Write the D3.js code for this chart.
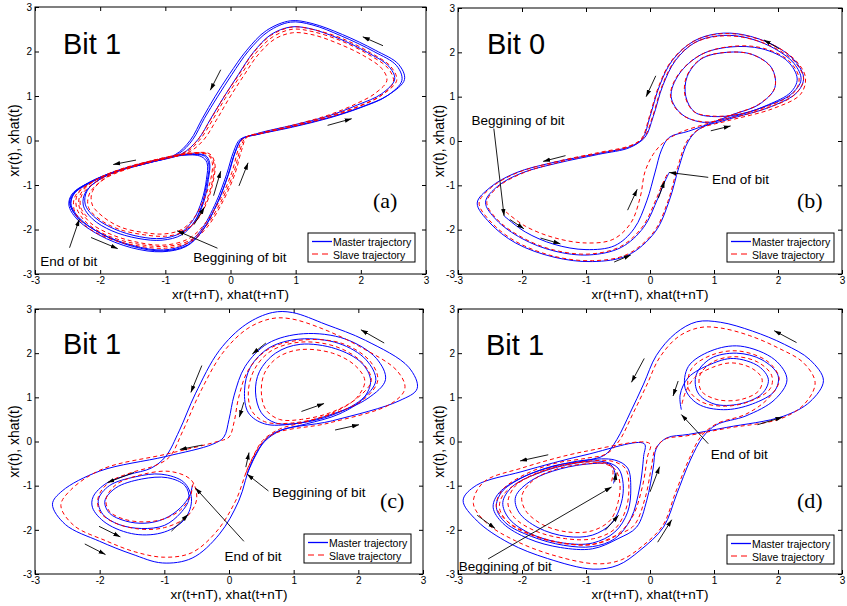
<!DOCTYPE html>
<html><head><meta charset="utf-8">
<script src="https://cdn.jsdelivr.net/npm/d3@7"></script>
<style>body{margin:0;background:#fff}</style>
</head><body>
<svg id="c" width="847" height="606"></svg>
<script>
const tickValues = [-3,-2,-1,0,1,2,3];
const tickLabels = ["-3","-2","-1","0","1","2","3"];
const xLabel = "xr(t+nT), xhat(t+nT)";
const yLabel = "xr(t), xhat(t)";
const legendLabels = ["Master trajectory","Slave trajectory"];
const bitLabels = ["Bit 1","Bit 0","Bit 1","Bit 1"];
const panelTags = ["(a)","(b)","(c)","(d)"];

const masterA = [
[-0.82,-2.12],[-0.6,-1.92],[-0.45,-1.5],[-0.37,-1.0],[-0.33,-0.55],[-0.4,-0.35],[-0.65,-0.32],[-1.05,-0.42],[-1.55,-0.6],[-1.98,-0.85],[-2.22,-1.15],[-2.26,-1.45],[-2.12,-1.76],[-1.82,-2.03],[-1.42,-2.2],[-1.05,-2.24],[-0.75,-2.12],[-0.55,-1.82],[-0.41,-1.38],[-0.34,-0.88],[-0.32,-0.5],[-0.38,-0.34],[-0.62,-0.3],[-1.02,-0.4],[-1.52,-0.58],[-1.96,-0.83],[-2.2,-1.13],[-2.23,-1.43],[-2.08,-1.73],[-1.78,-1.99],[-1.4,-2.16],[-1.05,-2.2],[-0.77,-2.08],[-0.57,-1.78],[-0.44,-1.35],[-0.37,-0.88],[-0.36,-0.5],[-0.45,-0.36],[-0.75,-0.33],
[-1.2,-0.47],[-1.7,-0.66],[-2.1,-0.9],[-2.38,-1.15],[-2.47,-1.38],[-2.35,-1.72],[-2.0,-2.08],[-1.5,-2.36],[-1.03,-2.46],[-0.68,-2.33],[-0.46,-2.03],[-0.22,-1.38],[-0.06,-0.76],[0.05,-0.24],[0.15,0.03],
[0.4,0.13],[0.95,0.3],[1.5,0.5],[2.0,0.74],[2.4,1.0],[2.63,1.35],[2.55,1.68],[2.2,2.0],[1.7,2.35],[1.25,2.6],[0.92,2.66],[0.58,2.45],[0.28,2.02],[0.02,1.48],[-0.2,0.98],[-0.4,0.5],[-0.58,0.02],[-0.8,-0.3],
[-1.25,-0.5],[-1.75,-0.69],[-2.15,-0.93],[-2.4,-1.18],[-2.45,-1.42],[-2.32,-1.74],[-1.98,-2.1],[-1.5,-2.38],[-1.03,-2.48],[-0.66,-2.35],[-0.43,-2.02],[-0.19,-1.37],[-0.03,-0.76],[0.08,-0.24],[0.18,0.04],
[0.42,0.14],[0.97,0.32],[1.52,0.52],[2.02,0.76],[2.42,1.02],[2.67,1.37],[2.58,1.71],[2.22,2.03],[1.72,2.38],[1.25,2.63],[0.92,2.69],[0.55,2.47],[0.25,2.03],[-0.02,1.48],[-0.24,0.98],[-0.43,0.5],[-0.62,0.0],[-0.85,-0.32],
[-1.28,-0.51],[-1.78,-0.7],[-2.18,-0.95],[-2.43,-1.2],[-2.48,-1.45],[-2.36,-1.76],[-2.02,-2.12],[-1.52,-2.41],[-1.05,-2.5],[-0.68,-2.38],[-0.44,-2.05],[-0.2,-1.4],[-0.04,-0.78],[0.07,-0.26],[0.17,0.02],
[0.42,0.16],[0.97,0.35],[1.5,0.55],[1.95,0.8],[2.32,1.05],[2.52,1.38],[2.42,1.68],[2.1,1.98],[1.65,2.3],[1.2,2.52],[0.92,2.55],[0.62,2.38],[0.35,1.98],[0.12,1.48],[-0.1,0.98],[-0.3,0.5],[-0.5,0.02],[-0.75,-0.3],
[-1.25,-0.5],[-1.75,-0.7],[-2.15,-0.95],[-2.4,-1.2],[-2.45,-1.48],[-2.33,-1.77]];

const slaveA = [
[-0.78,-2.05],[-0.55,-1.85],[-0.38,-1.45],[-0.27,-0.95],[-0.24,-0.52],[-0.32,-0.3],[-0.6,-0.28],[-1.0,-0.38],[-1.5,-0.58],[-1.9,-0.82],[-2.12,-1.15],[-2.12,-1.45],[-1.95,-1.72],[-1.68,-1.95],[-1.32,-2.07],[-1.02,-2.1],[-0.75,-2.0],[-0.55,-1.72],[-0.4,-1.3],[-0.3,-0.85],[-0.28,-0.5],[-0.35,-0.32],[-0.62,-0.3],[-1.02,-0.41],[-1.52,-0.61],[-1.93,-0.86],[-2.16,-1.18],[-2.18,-1.5],[-2.0,-1.78],[-1.7,-2.0],[-1.32,-2.12],[-1.0,-2.15],[-0.72,-2.05],[-0.5,-1.75],[-0.36,-1.32],[-0.27,-0.85],[-0.26,-0.48],[-0.35,-0.3],[-0.7,-0.3],
[-1.2,-0.45],[-1.7,-0.65],[-2.08,-0.9],[-2.3,-1.2],[-2.32,-1.5],[-2.15,-1.85],[-1.85,-2.1],[-1.45,-2.28],[-1.02,-2.35],[-0.66,-2.22],[-0.42,-1.92],[-0.15,-1.3],[0.02,-0.72],[0.12,-0.2],[0.2,0.05],
[0.45,0.15],[1.0,0.33],[1.5,0.52],[1.95,0.75],[2.3,1.0],[2.5,1.32],[2.42,1.62],[2.12,1.93],[1.68,2.25],[1.25,2.45],[0.95,2.5],[0.65,2.33],[0.38,1.95],[0.15,1.45],[-0.08,0.95],[-0.28,0.45],[-0.48,0.0],[-0.7,-0.28],
[-1.2,-0.46],[-1.72,-0.67],[-2.12,-0.93],[-2.35,-1.22],[-2.36,-1.52],[-2.2,-1.86],[-1.88,-2.14],[-1.45,-2.32],[-1.0,-2.38],[-0.63,-2.25],[-0.38,-1.93],[-0.12,-1.3],[0.05,-0.72],[0.15,-0.2],[0.23,0.06],
[0.5,0.17],[1.02,0.35],[1.52,0.55],[1.98,0.78],[2.33,1.03],[2.55,1.35],[2.46,1.66],[2.15,1.97],[1.7,2.3],[1.25,2.5],[0.95,2.55],[0.63,2.37],[0.35,1.97],[0.12,1.46],[-0.11,0.96],[-0.31,0.46],[-0.51,0.0],[-0.73,-0.29],
[-1.22,-0.47],[-1.74,-0.68],[-2.14,-0.95],[-2.38,-1.24],[-2.4,-1.55],[-2.24,-1.9],[-1.9,-2.18],[-1.45,-2.36],[-1.0,-2.42],[-0.62,-2.28],[-0.36,-1.95],[-0.1,-1.32],[0.07,-0.74],[0.17,-0.22],[0.25,0.07],
[0.52,0.19],[1.05,0.38],[1.52,0.58],[1.92,0.82],[2.22,1.06],[2.4,1.35],[2.32,1.62],[2.05,1.9],[1.65,2.18],[1.25,2.38],[0.95,2.42],[0.68,2.28],[0.42,1.92],[0.2,1.45],[-0.02,0.95],[-0.22,0.45],[-0.42,0.0],[-0.65,-0.27],
[-1.15,-0.45],[-1.65,-0.66],[-2.05,-0.92],[-2.28,-1.22],[-2.3,-1.5],[-2.2,-1.72]];

const masterB = [
[-2.28,-1.69],[-1.95,-2.05],[-1.5,-2.33],[-1.0,-2.45],[-0.55,-2.36],[-0.25,-1.98],[-0.05,-1.35],[0.08,-0.7],[0.18,-0.2],[0.3,0.08],[0.6,0.22],
[0.95,0.4],[1.3,0.6],[1.7,0.82],[1.95,1.2],[1.9,1.65],[1.6,1.95],[1.2,2.0],[0.8,1.85],[0.58,1.45],[0.56,1.0],[0.7,0.65],[1.0,0.55],[1.45,0.62],[1.85,0.82],[2.2,1.1],[2.3,1.4],[2.15,1.8],[1.75,2.08],[1.25,2.12],[0.8,1.95],[0.45,1.5],[0.33,1.0],[0.5,0.6],[0.85,0.42],[1.3,0.55],[1.8,0.78],[2.2,1.05],[2.36,1.38],[2.25,1.75],[1.9,2.12],[1.45,2.35],[1.05,2.37],[0.7,2.22],[0.4,1.82],[0.2,1.25],[0.05,0.55],[-0.08,0.08],[-0.3,-0.12],
[-0.8,-0.28],[-1.5,-0.48],[-2.1,-0.72],[-2.5,-1.05],[-2.7,-1.4],[-2.5,-1.85],[-2.1,-2.3],[-1.5,-2.62],[-0.9,-2.72],[-0.35,-2.58],[0.08,-2.05],[0.3,-1.35],[0.45,-0.6],[0.6,0.0],[0.78,0.28],
[1.2,0.48],[1.9,0.78],[2.3,1.1],[2.4,1.42],[2.28,1.78],[1.95,2.15],[1.45,2.4],[1.05,2.42],[0.68,2.25],[0.35,1.82],[0.15,1.25],[0.0,0.55],[-0.12,0.05],[-0.32,-0.15],
[-0.8,-0.3],[-1.45,-0.5],[-2.0,-0.72],[-2.38,-1.02],[-2.57,-1.38],[-2.4,-1.78],[-2.0,-2.2],[-1.5,-2.48],[-0.95,-2.57],[-0.45,-2.4],[-0.1,-1.95],[0.12,-1.3],[0.22,-0.95],[0.3,-0.71]];

const slaveB = [
[-2.25,-1.6],[-1.95,-1.92],[-1.5,-2.18],[-1.0,-2.3],[-0.58,-2.22],[-0.3,-1.85],[-0.15,-1.25],[-0.08,-0.7],[0.05,-0.3],[0.2,-0.05],[0.45,0.18],
[0.95,0.42],[1.3,0.6],[1.7,0.83],[1.95,1.2],[1.9,1.64],[1.6,1.95],[1.2,2.0],[0.8,1.86],[0.57,1.45],[0.55,1.0],[0.69,0.66],[1.0,0.56],[1.45,0.62],[1.87,0.8],[2.24,1.08],[2.33,1.4],[2.17,1.81],[1.75,2.1],[1.25,2.13],[0.8,1.95],[0.44,1.5],[0.32,1.0],[0.49,0.6],[0.85,0.43],[1.3,0.53],[1.82,0.74],[2.24,1.02],[2.4,1.38],[2.27,1.77],[1.92,2.12],[1.45,2.34],[1.05,2.36],[0.69,2.21],[0.39,1.82],[0.19,1.25],[0.04,0.55],[-0.09,0.09],[-0.3,-0.1],
[-0.8,-0.26],[-1.45,-0.46],[-2.08,-0.72],[-2.48,-1.05],[-2.67,-1.4],[-2.47,-1.85],[-2.08,-2.28],[-1.5,-2.6],[-0.9,-2.7],[-0.36,-2.56],[0.06,-2.05],[0.28,-1.36],[0.43,-0.6],[0.58,0.0],[0.77,0.27],
[1.2,0.45],[1.92,0.73],[2.35,1.05],[2.43,1.42],[2.3,1.78],[1.96,2.14],[1.45,2.39],[1.05,2.41],[0.67,2.24],[0.34,1.82],[0.14,1.25],[-0.01,0.55],[-0.13,0.06],[-0.33,-0.13],
[-0.8,-0.28],[-1.43,-0.48],[-1.98,-0.72],[-2.36,-1.02],[-2.55,-1.38],[-2.38,-1.78],[-1.98,-2.19],[-1.5,-2.46],[-0.95,-2.55],[-0.46,-2.38],[-0.12,-1.94],[0.1,-1.3],[0.2,-0.95],[0.28,-0.72]];

const masterC = [
[0.28,-0.74],[0.4,-0.35],[0.55,0.0],[0.8,0.25],[1.2,0.4],[1.7,0.62],[2.08,0.98],[2.19,1.38],[2.05,1.78],[1.65,2.1],[1.1,2.2],[0.72,2.0],[0.47,1.58],[0.41,1.12],[0.5,0.65],[0.72,0.42],[1.1,0.42],[1.6,0.6],[2.05,0.95],[2.27,1.38],[2.12,1.85],[1.7,2.22],[1.1,2.32],[0.62,2.12],[0.33,1.68],[0.24,1.15],[0.3,0.65],[0.55,0.4],[1.0,0.4],[1.6,0.62],[2.15,0.98],[2.42,1.4],[2.28,1.88],[1.8,2.32],[1.15,2.44],[0.6,2.22],[0.25,1.7],[0.08,1.05],[0.0,0.5],[-0.08,0.1],[-0.25,-0.06],
[-0.98,-0.34],[-2.0,-0.67],[-2.58,-1.12],[-2.73,-1.42],[-2.53,-1.88],[-2.0,-2.26],[-1.5,-2.55],[-1.03,-2.75],[-0.57,-2.64],[-0.15,-2.1],[0.15,-1.35],[0.36,-0.44],[0.67,0.17],
[1.6,0.47],[2.63,0.92],[2.91,1.2],[2.78,1.68],[2.11,2.29],[1.5,2.65],[0.98,2.92],[0.67,2.92],[0.26,2.65],[-0.15,2.06],[-0.52,1.08],[-0.77,0.24],[-0.98,-0.34],
[-1.2,-0.6],[-1.55,-0.75],[-1.9,-0.95],[-2.1,-1.25],[-2.11,-1.5],[-1.9,-1.85],[-1.45,-2.1],[-1.0,-2.05],[-0.68,-1.75],[-0.58,-1.3],[-0.7,-0.92],[-1.05,-0.74],[-1.45,-0.8],[-1.85,-1.0],[-2.02,-1.32],[-1.95,-1.65],[-1.7,-1.88],[-1.35,-1.97],[-1.0,-1.9],[-0.75,-1.62],[-0.62,-1.3],[-0.68,-1.0],[-0.95,-0.82],[-1.35,-0.85],[-1.75,-1.05],[-1.92,-1.35],[-1.85,-1.62],[-1.6,-1.8],[-1.3,-1.85],[-1.0,-1.75],[-0.75,-1.5],[-0.6,-1.2],[-0.57,-1.0]];

const slaveC = [
[0.26,-0.72],[0.38,-0.32],[0.52,0.02],[0.78,0.28],[1.2,0.45],[1.65,0.68],[1.98,1.0],[2.1,1.38],[1.95,1.72],[1.6,2.0],[1.1,2.08],[0.75,1.9],[0.55,1.55],[0.5,1.12],[0.57,0.72],[0.78,0.5],[1.12,0.5],[1.58,0.66],[1.98,0.98],[2.2,1.38],[2.05,1.8],[1.65,2.15],[1.1,2.25],[0.65,2.05],[0.4,1.65],[0.3,1.15],[0.35,0.7],[0.55,0.45],[0.98,0.42],[1.55,0.6],[2.08,0.95],[2.3,1.38],[2.18,1.82],[1.75,2.22],[1.15,2.3],[0.62,2.1],[0.3,1.62],[0.15,1.0],[0.08,0.45],[0.0,0.1],[-0.18,0.0],
[-0.95,-0.28],[-1.95,-0.62],[-2.45,-1.1],[-2.6,-1.45],[-2.4,-1.9],[-1.9,-2.25],[-1.45,-2.5],[-1.0,-2.62],[-0.58,-2.52],[-0.2,-2.05],[0.1,-1.35],[0.33,-0.48],[0.62,0.12],
[1.55,0.42],[2.5,0.85],[2.72,1.2],[2.6,1.6],[2.02,2.15],[1.45,2.55],[0.95,2.78],[0.65,2.78],[0.28,2.55],[-0.1,2.0],[-0.45,1.1],[-0.72,0.22],[-0.92,-0.35],
[-1.15,-0.55],[-1.5,-0.7],[-1.85,-0.92],[-2.02,-1.25],[-2.0,-1.58],[-1.8,-1.82],[-1.4,-1.98],[-1.0,-1.95],[-0.65,-1.7],[-0.5,-1.3],[-0.58,-0.88],[-0.9,-0.68],[-1.35,-0.75],[-1.75,-0.98],[-1.9,-1.3],[-1.85,-1.58],[-1.62,-1.76],[-1.3,-1.82],[-1.0,-1.75],[-0.75,-1.55],[-0.6,-1.25],[-0.55,-0.95],[-0.52,-0.92]];

const masterD = [
[-0.57,-0.95],[-0.55,-0.7],[-0.62,-0.52],[-0.9,-0.5],[-1.4,-0.62],[-1.85,-0.88],[-2.1,-1.25],[-2.05,-1.6],[-1.75,-1.95],[-1.3,-2.15],[-0.9,-2.12],[-0.6,-1.85],[-0.45,-1.4],[-0.42,-0.95],[-0.5,-0.6],[-0.75,-0.45],[-1.2,-0.5],[-1.75,-0.72],[-2.15,-1.02],[-2.3,-1.38],[-2.2,-1.75],[-1.85,-2.1],[-1.35,-2.3],[-0.9,-2.3],[-0.55,-2.05],[-0.35,-1.6],[-0.3,-1.05],[-0.35,-0.6],[-0.55,-0.42],[-1.0,-0.42],[-1.55,-0.58],[-2.05,-0.85],[-2.38,-1.2],[-2.45,-1.5],[-2.3,-1.85],[-1.9,-2.2],[-1.4,-2.4],[-0.9,-2.43],[-0.5,-2.2],[-0.21,-1.94],[-0.05,-1.33],[0.05,-0.6],[0.1,-0.15],[0.26,0.08],
[0.6,0.16],[1.2,0.32],[2.08,0.57],[2.5,0.9],[2.71,1.38],[2.5,1.85],[2.1,2.2],[1.6,2.5],[1.1,2.7],[0.73,2.71],[0.4,2.45],[0.1,1.95],[-0.1,1.3],[-0.31,0.65],[-0.52,0.04],[-0.7,-0.3],
[-1.0,-0.43],[-1.5,-0.55],[-2.0,-0.82],[-2.32,-1.15],[-2.4,-1.5],[-2.25,-1.85],[-1.85,-2.15],[-1.35,-2.35],[-0.9,-2.38],[-0.55,-2.2],[-0.3,-1.75],[-0.16,-1.03],[-0.1,-0.34],[-0.09,-0.05],
[-1.0,-0.3],[-2.0,-0.68],[-2.71,-0.99],[-2.92,-1.33],[-2.7,-1.8],[-2.2,-2.3],[-1.6,-2.65],[-0.89,-2.89],[-0.5,-2.8],[-0.16,-2.47],[0.21,-1.94],[0.42,-1.18],[0.63,-0.42],[0.83,0.11],[1.04,0.38],
[1.5,0.58],[1.95,0.95],[2.14,1.4],[1.95,1.85],[1.41,2.16],[0.95,2.05],[0.6,1.7],[0.55,1.2],[0.75,0.85],[1.15,0.72],[1.6,0.85],[1.95,1.15],[2.0,1.5],[1.75,1.85],[1.35,2.0],[0.95,1.88],[0.72,1.5],[0.75,1.1],[1.0,0.85],[1.4,0.85],[1.75,1.08],[1.85,1.4],[1.7,1.7],[1.3,1.88],[0.95,1.75],[0.6,1.45],[0.47,1.05],[0.49,0.72]];

const slaveD = [
[-0.6,-0.9],[-0.58,-0.65],[-0.66,-0.5],[-0.95,-0.5],[-1.4,-0.6],[-1.8,-0.85],[-2.0,-1.22],[-1.95,-1.55],[-1.68,-1.88],[-1.28,-2.05],[-0.9,-2.02],[-0.62,-1.78],[-0.5,-1.38],[-0.47,-0.95],[-0.55,-0.62],[-0.8,-0.48],[-1.22,-0.5],[-1.72,-0.7],[-2.1,-1.0],[-2.22,-1.38],[-2.12,-1.72],[-1.8,-2.02],[-1.32,-2.2],[-0.88,-2.2],[-0.55,-1.98],[-0.38,-1.55],[-0.33,-1.05],[-0.38,-0.62],[-0.58,-0.45],[-1.0,-0.45],[-1.55,-0.6],[-2.0,-0.88],[-2.3,-1.22],[-2.35,-1.52],[-2.2,-1.85],[-1.85,-2.12],[-1.4,-2.3],[-0.9,-2.33],[-0.52,-2.12],[-0.25,-1.9],[-0.08,-1.3],[0.02,-0.6],[0.08,-0.18],[0.23,0.05],
[0.58,0.13],[1.2,0.3],[2.05,0.52],[2.42,0.86],[2.58,1.33],[2.4,1.78],[2.0,2.12],[1.55,2.4],[1.1,2.57],[0.78,2.58],[0.45,2.38],[0.15,1.9],[-0.05,1.28],[-0.27,0.62],[-0.48,0.02],[-0.68,-0.28],
[-1.0,-0.38],[-1.5,-0.5],[-2.0,-0.78],[-2.32,-1.12],[-2.4,-1.48],[-2.22,-1.82],[-1.82,-2.12],[-1.35,-2.3],[-0.9,-2.33],[-0.55,-2.15],[-0.28,-1.72],[-0.12,-1.03],[-0.04,-0.35],[0.0,-0.05],
[-1.0,-0.22],[-2.0,-0.6],[-2.6,-0.92],[-2.76,-1.4],[-2.55,-1.85],[-2.1,-2.25],[-1.5,-2.58],[-0.83,-2.77],[-0.45,-2.68],[-0.13,-2.38],[0.2,-1.9],[0.4,-1.15],[0.61,-0.4],[0.8,0.12],[1.04,0.4],
[1.5,0.62],[1.85,0.98],[2.02,1.4],[1.85,1.8],[1.38,2.05],[0.95,1.95],[0.65,1.65],[0.6,1.2],[0.8,0.9],[1.18,0.8],[1.58,0.92],[1.88,1.2],[1.9,1.5],[1.68,1.8],[1.32,1.92],[0.98,1.8],[0.78,1.5],[0.8,1.15],[1.05,0.95],[1.42,0.95],[1.7,1.15],[1.75,1.42],[1.6,1.65],[1.28,1.78],[0.98,1.68],[0.7,1.45],[0.55,1.1],[0.5,0.85]];

const arrowsA = [[2.34,2.13,2.03,2.33],[-0.15,1.59,-0.31,1.13],[1.49,0.34,1.86,0.49],[-1.45,-0.44,-1.8,-0.54],[-2.14,-2.18,-1.73,-2.43],[-0.26,-1.24,-0.15,-0.69],[0.13,-1.02,0.27,-0.5],[-0.56,-1.89,-0.4,-1.5]];
const arrowsB = [[2.02,2.08,1.78,2.28],[0.09,1.47,-0.06,1.0],[0.95,0.23,1.26,0.34],[-1.32,-0.33,-1.67,-0.46],[-2.19,-1.77,-1.97,-1.98],[-1.71,-2.19,-1.4,-2.32],[-0.56,-2.73,-0.3,-2.57],[-0.35,-1.56,-0.2,-1.09],[0.13,-1.29,0.23,-0.9]];
const arrowsC = [[2.4,2.23,2.04,2.53],[0.57,2.23,0.36,1.98],[-0.42,1.72,-0.59,1.11],[0.23,0.89,0.16,0.55],[1.12,0.68,1.47,0.86],[1.64,0.26,2.01,0.38],[-0.41,-0.08,-0.76,-0.18],[-1.47,-0.7,-1.88,-0.93],[-2.01,-1.92,-1.68,-2.16],[-2.23,-2.32,-1.91,-2.56],[-0.89,-2.03,-0.63,-1.65],[0.26,-0.58,0.31,-0.25]];
const arrowsD = [[2.29,2.24,1.94,2.51],[-0.09,1.88,-0.29,1.34],[0.44,1.37,0.36,1.03],[1.68,0.38,2.07,0.55],[-1.59,-0.3,-2.03,-0.44],[-2.7,-1.67,-2.42,-1.97],[-0.7,-2.01,-0.49,-1.67],[0,-1.14,0.15,-0.57],[0.12,-2.28,0.34,-1.77],[-0.55,-0.91,-0.53,-0.71]];

const notesA = [
 {text:"End of bit", tx:-2.92, ty:-2.82, from:[-2.47,-2.41], to:[-2.32,-1.77]},
 {text:"Beggining of bit", tx:-0.57, ty:-2.74, from:[-0.2,-2.42], to:[-0.82,-2.03]}];
const notesB = [
 {text:"Beggining of bit", tx:-2.79, ty:0.36, from:[-2.44,0.28], to:[-2.28,-1.69]},
 {text:"End of bit", tx:0.97, ty:-0.96, from:[0.91,-0.82], to:[0.3,-0.71]}];
const notesC = [
 {text:"Beggining of bit", tx:0.67, ty:-1.26, from:[0.61,-1.12], to:[0.28,-0.74]},
 {text:"End of bit", tx:-0.07, ty:-2.7, from:[0.23,-2.26], to:[-0.52,-1.05]}];
const notesD = [
 {text:"Beggining of bit", tx:-2.99, ty:-2.94, from:[-2.53,-2.66], to:[-0.6,-1.03]},
 {text:"End of bit", tx:0.95, ty:-0.39, from:[0.91,-0.05], to:[0.49,0.61]}];

const layout = [
 {x:[35,426], y:[274,7],  legend:[308,233], yl:19,  master:masterA, slave:slaveA, arrows:arrowsA, notes:notesA, bit:[63,54],  tag:[373,208]},
 {x:[458,842], y:[274,8], legend:[727,233], yl:444, master:masterB, slave:slaveB, arrows:arrowsB, notes:notesB, bit:[487,54], tag:[797,208]},
 {x:[35,423], y:[574,309], legend:[304,534], yl:19, master:masterC, slave:slaveC, arrows:arrowsC, notes:notesC, bit:[63,354], tag:[380,508]},
 {x:[458,842], y:[574,309], legend:[727,535], yl:444, master:masterD, slave:slaveD, arrows:arrowsD, notes:notesD, bit:[486,355], tag:[797,508]}
];

const SANS = "'Liberation Sans', Arial, Helvetica, sans-serif";
const SERIF = "'Liberation Serif', 'Times New Roman', serif";
const svg = d3.select("#c");
const defs = svg.append("defs");
defs.append("marker").attr("id","ah").attr("viewBox","0 -3 7 6").attr("refX",7).attr("refY",0)
  .attr("markerWidth",7).attr("markerHeight",6).attr("markerUnits","userSpaceOnUse").attr("orient","auto")
  .append("path").attr("d","M0,-2.2L7,0L0,2.2Z").attr("fill","#000");

layout.forEach((p,i) => {
  const x = d3.scaleLinear().domain([-3,3]).range(p.x);
  const y = d3.scaleLinear().domain([-3,3]).range(p.y);
  const g = svg.append("g");
  const line = d3.line().x(d=>x(d[0])).y(d=>y(d[1])).curve(d3.curveCatmullRom.alpha(0.5));

  const fmt = (d)=>tickLabels[tickValues.indexOf(d)];
  const bottom = g.append("g").attr("transform",`translate(0,${p.y[0]})`)
    .call(d3.axisBottom(x).tickValues(tickValues).tickFormat(fmt).tickSizeInner(-4).tickSizeOuter(0).tickPadding(3));
  const left = g.append("g").attr("transform",`translate(${p.x[0]},0)`)
    .call(d3.axisLeft(y).tickValues(tickValues).tickFormat(fmt).tickSizeInner(-4).tickSizeOuter(0).tickPadding(3));
  const top = g.append("g").attr("transform",`translate(0,${p.y[1]})`)
    .call(d3.axisTop(x).tickValues(tickValues).tickFormat("").tickSizeInner(-4).tickSizeOuter(0));
  const right = g.append("g").attr("transform",`translate(${p.x[1]},0)`)
    .call(d3.axisRight(y).tickValues(tickValues).tickFormat("").tickSizeInner(-4).tickSizeOuter(0));
  [bottom,left,top,right].forEach(a=>{
    a.select(".domain").remove();
    a.attr("font-family",SANS).attr("font-size",10);
    a.selectAll("line").attr("stroke","#000");
    a.selectAll("text").attr("fill","#000");
  });

  g.append("path").attr("d",line(p.master)).attr("fill","none").attr("stroke","#0000ff").attr("stroke-width",1);
  g.append("path").attr("d",line(p.slave)).attr("fill","none").attr("stroke","#ff0000").attr("stroke-width",1).attr("stroke-dasharray","4,3");

  g.append("rect").attr("x",p.x[0]).attr("y",p.y[1]).attr("width",p.x[1]-p.x[0]).attr("height",p.y[0]-p.y[1])
    .attr("fill","none").attr("stroke","#000").attr("stroke-width",1);

  g.selectAll(".fa").data(p.arrows).join("line").attr("class","fa")
    .attr("x1",d=>x(d[0])).attr("y1",d=>y(d[1])).attr("x2",d=>x(d[2])).attr("y2",d=>y(d[3]))
    .attr("stroke","#000").attr("stroke-width",0.9).attr("marker-end","url(#ah)");

  p.notes.forEach(n=>{
    g.append("line").attr("x1",x(n.from[0])).attr("y1",y(n.from[1])).attr("x2",x(n.to[0])).attr("y2",y(n.to[1]))
      .attr("stroke","#000").attr("stroke-width",0.9).attr("marker-end","url(#ah)");
    g.append("text").attr("x",x(n.tx)).attr("y",y(n.ty)).text(n.text)
      .attr("font-family",SANS).attr("font-size",13.5).attr("fill","#000");
  });

  g.append("text").attr("x",p.bit[0]).attr("y",p.bit[1]).text(bitLabels[i])
    .attr("font-family",SANS).attr("font-size",29).attr("fill","#000");
  g.append("text").attr("x",p.tag[0]).attr("y",p.tag[1]).text(panelTags[i])
    .attr("font-family",SERIF).attr("font-size",22).attr("fill","#000");
  g.append("text").attr("x",(p.x[0]+p.x[1])/2).attr("y",p.y[0]+25).attr("text-anchor","middle").text(xLabel)
    .attr("font-family",SANS).attr("font-size",13.5).attr("fill","#000");
  g.append("text").attr("transform",`translate(${p.yl},${(p.y[0]+p.y[1])/2}) rotate(-90)`).attr("text-anchor","middle").text(yLabel)
    .attr("font-family",SANS).attr("font-size",14).attr("fill","#000");

  const [lx,ly] = p.legend;
  const lg = g.append("g").attr("transform",`translate(${lx},${ly})`);
  lg.append("rect").attr("x",0).attr("y",0).attr("width",107).attr("height",29).attr("fill","#fff").attr("stroke","#000").attr("stroke-width",1);
  lg.append("line").attr("x1",4).attr("x2",24).attr("y1",8.5).attr("y2",8.5).attr("stroke","#0000ff").attr("stroke-width",1.3);
  lg.append("line").attr("x1",4).attr("x2",24).attr("y1",21).attr("y2",21).attr("stroke","#ff0000").attr("stroke-width",1.2).attr("stroke-dasharray","6,4");
  legendLabels.forEach((t,j)=>{
    lg.append("text").attr("x",25).attr("y",12.5+j*13).text(t).attr("font-family",SANS).attr("font-size",10.5).attr("fill","#000");
  });
});
</script>
</body></html>
